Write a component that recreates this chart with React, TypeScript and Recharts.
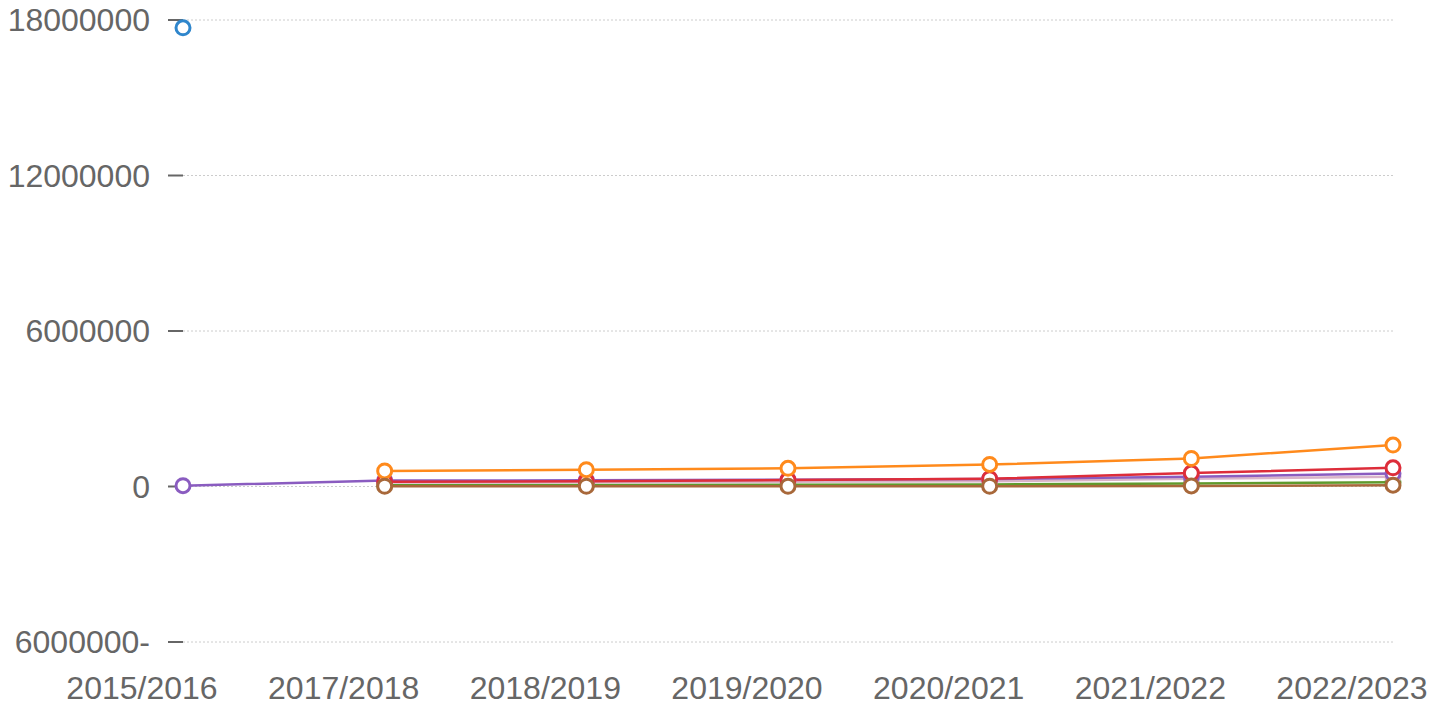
import React from "react";
import { CartesianGrid, Line, LineChart, XAxis, YAxis } from "recharts";

const years = [
  "2015/2016",
  "2017/2018",
  "2018/2019",
  "2019/2020",
  "2020/2021",
  "2021/2022",
  "2022/2023",
];

const blueValues = [17700000, null, null, null, null, null, null];
const purpleValues = [30000, 230000, 240000, 260000, 290000, 380000, 500000];
const orangeValues = [null, 600000, 650000, 700000, 850000, 1080000, 1600000];
const redValues = [null, 180000, 200000, 250000, 300000, 520000, 720000];
const pinkValues = [null, 150000, 160000, 180000, 200000, 300000, 380000];
const greenValues = [null, 50000, 60000, 70000, 80000, 120000, 160000];
const brownValues = [null, 10000, 10000, 10000, 10000, 20000, 50000];

const yTicks = [-6000000, 0, 6000000, 12000000, 18000000];

const chartData = years.map((year, i) => ({
  year,
  blue: blueValues[i],
  purple: purpleValues[i],
  orange: orangeValues[i],
  red: redValues[i],
  pink: pinkValues[i],
  green: greenValues[i],
  brown: brownValues[i],
}));

const series = [
  { key: "blue", color: "#2f86cc" },
  { key: "green", color: "#5f9a2c" },
  { key: "pink", color: "#d9b3c8" },
  { key: "purple", color: "#8a5cc0" },
  { key: "red", color: "#dd2d3a" },
  { key: "orange", color: "#ff8a1c" },
  { key: "brown", color: "#a8683a" },
];

const tickStyle = {
  fontSize: 32,
  fontFamily: "'Liberation Sans', Arial, sans-serif",
  fill: "#666666",
};

const App = () => {
  return (
    <div style={{ position: "absolute", left: 0, top: 0, background: "#fff" }}>
      <LineChart
        width={1448}
        height={708}
        data={chartData}
        margin={{ top: 20, right: 55, bottom: 0, left: 0 }}
      >
        <CartesianGrid
          vertical={false}
          stroke="#cccccc"
          strokeDasharray="2 2"
        />
        <XAxis
          dataKey="year"
          axisLine={false}
          tickLine={false}
          tickSize={0}
          tickMargin={34}
          height={66}
          interval={0}
          tick={{ ...tickStyle, dx: -41 }}
        />
        <YAxis
          width={183}
          domain={[-6000000, 18000000]}
          ticks={yTicks}
          axisLine={false}
          tickSize={15}
          tickMargin={18}
          tickLine={{ stroke: "#666666", strokeWidth: 2 }}
          tick={tickStyle}
          tickFormatter={(value) =>
            value < 0 ? `${-value}-` : `${value}`
          }
        />
        {series.map((s) => (
          <Line
            key={s.key}
            type="linear"
            dataKey={s.key}
            stroke={s.color}
            strokeWidth={2.5}
            dot={{ r: 7, stroke: s.color, strokeWidth: 3, fill: "#ffffff" }}
            activeDot={false}
            isAnimationActive={false}
          />
        ))}
      </LineChart>
    </div>
  );
};

export default App;
